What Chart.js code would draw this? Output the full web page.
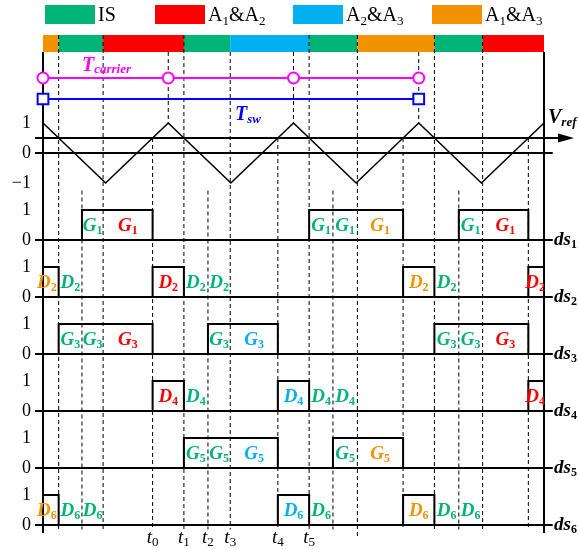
<!DOCTYPE html>
<html>
<head>
<meta charset="utf-8">
<title>Switching states</title>
<script src="https://cdn.jsdelivr.net/npm/chart.js@4.4.1/dist/chart.umd.min.js"></script>
<style>
html, body { margin: 0; padding: 0; background: #fff; }
canvas { display: block; }
</style>
</head>
<body>
<canvas id="chart" width="578" height="549"></canvas>
<script>
// Time axis: one unit = one carrier period
const edges = [0, 0.125, 0.311, 0.48, 0.875, 1.125, 1.317, 1.495, 1.875, 2.125, 2.315, 2.51, 2.875, 3.125, 3.32, 3.51, 3.875, 4];
// Operating mode in each interval between consecutive edges
const modes = ['A13', 'IS', 'IS', 'A12', 'A12', 'IS', 'IS', 'A23', 'A23', 'IS', 'IS', 'A13', 'A13', 'IS', 'IS', 'A12', 'A12'];
const modeNames = { IS: 'IS', A12: 'A1&A2', A23: 'A2&A3', A13: 'A1&A3' };
const legendOrder = ['IS', 'A12', 'A23', 'A13'];

// Triangular carrier and reference level
const carrierT = [0, 0.5, 1, 1.5, 2, 2.5, 3, 3.5, 4];
const carrierV = [1, -1, 1, -1, 1, -1, 1, -1, 1];
const vref = 0.5;
const carrierStarts = [0, 1, 2, 3];
const switchStarts = [0, 3];

// Switch states in each interval
const ds1 = [0, 0, 1, 1, 0, 0, 0, 0, 0, 1, 1, 1, 0, 0, 1, 1, 0];
const ds2 = [1, 0, 0, 0, 1, 0, 0, 0, 0, 0, 0, 0, 1, 0, 0, 0, 1];
const ds3 = [0, 1, 1, 1, 0, 0, 1, 1, 0, 0, 0, 0, 0, 1, 1, 1, 0];
const ds4 = [0, 0, 0, 0, 1, 0, 0, 0, 1, 0, 0, 0, 0, 0, 0, 0, 1];
const ds5 = [0, 0, 0, 0, 0, 1, 1, 1, 0, 0, 1, 1, 0, 0, 0, 0, 0];
const ds6 = [1, 0, 0, 0, 0, 0, 0, 0, 1, 0, 0, 0, 1, 0, 0, 0, 0];

// Intervals in which each device conducts
const cond1 = [2, 3, 9, 10, 11, 14, 15];
const cond2 = [0, 1, 4, 5, 6, 12, 13, 16];
const cond3 = [1, 2, 3, 6, 7, 13, 14, 15];
const cond4 = [4, 5, 8, 9, 10, 16];
const cond5 = [5, 6, 7, 10, 11];
const cond6 = [0, 1, 2, 8, 9, 12, 13, 14];

// Named instants along the bottom
const timeLabels = ['t0', 't1', 't2', 't3', 't4', 't5'];
const timeLabelEdges = [4, 5, 6, 7, 8, 9];

// Tick labels
const carrierTicks = [1, 0, -1];
const stateTicks = [1, 0];

const rows = [
  { name: 'ds1', dev: 'G1', state: ds1, cond: cond1 },
  { name: 'ds2', dev: 'D2', state: ds2, cond: cond2 },
  { name: 'ds3', dev: 'G3', state: ds3, cond: cond3 },
  { name: 'ds4', dev: 'D4', state: ds4, cond: cond4 },
  { name: 'ds5', dev: 'G5', state: ds5, cond: cond5 },
  { name: 'ds6', dev: 'D6', state: ds6, cond: cond6 }
];

// ---- layout and style ----
const SERIF = "'Liberation Serif', 'Times New Roman', serif";
const MAGENTA = '#ff00ff';
const BLUE = '#0000ff';
const modeColor = { IS: '#00b377', A12: '#ff0000', A23: '#00b0f0', A13: '#f39200' };
const ROW0 = -2.9, ROW_STEP = 1.9;
const rowBase = k => ROW0 - ROW_STEP * k;
const BAR_TOP = 3.933, BAR_BOT = 3.367;
const TC_Y = 2.5, TSW_Y = 1.8;
const GUIDE_BOT = -12.55;
const AXIS_BOT = -12.67;
const RULE_L = -0.064, RULE_R = 4.07;
const ARROW_BASE = 4.112, ARROW_TIP = 4.24;

const fmtTick = n => (n < 0 ? '\u2212' + Math.abs(n) : String(n));
const tickEntries = carrierTicks.map(v => ({ value: v, text: fmtTick(v) }));
rows.forEach((r, k) => stateTicks.forEach(v => tickEntries.push({ value: rowBase(k) + v, text: fmtTick(v) })));

const pts = (xs, ys) => xs.map((x, i) => ({ x, y: ys[i] }));
function lineDs(data, extra) {
  return Object.assign({ type: 'line', data, borderColor: '#000', borderWidth: 2, pointRadius: 0,
    pointHoverRadius: 0, fill: false, tension: 0, spanGaps: false }, extra || {});
}

const datasets = [];

// period markers
datasets.push(lineDs(carrierStarts.map(t => ({ x: t, y: TC_Y })), {
  borderColor: MAGENTA, borderWidth: 2, pointRadius: 5.5, pointStyle: 'circle',
  pointBackgroundColor: '#fff', pointBorderColor: MAGENTA, pointBorderWidth: 2
}));
datasets.push(lineDs(switchStarts.map(t => ({ x: t, y: TSW_Y })), {
  borderColor: BLUE, borderWidth: 2, pointRadius: 7.6, pointStyle: 'rect',
  pointBackgroundColor: '#fff', pointBorderColor: BLUE, pointBorderWidth: 2
}));

// switching signals
rows.forEach((r, k) => {
  const off = rowBase(k);
  const data = r.state.map((s, i) => ({ x: edges[i], y: off + s }));
  data.push({ x: edges[edges.length - 1], y: off + r.state[r.state.length - 1] });
  datasets.push(lineDs(data, { stepped: 'before', borderWidth: 2 }));
  datasets.push(lineDs([{ x: RULE_L, y: off }, { x: RULE_R, y: off }], { borderWidth: 2 }));
});

// carrier, reference and zero line
datasets.push(lineDs(pts(carrierT, carrierV), { borderWidth: 1.6 }));
datasets.push(lineDs([{ x: RULE_L, y: vref }, { x: ARROW_BASE, y: vref }], { borderWidth: 2 }));
datasets.push(lineDs([{ x: RULE_L, y: 0 }, { x: RULE_R, y: 0 }], { borderWidth: 2 }));

// left and right frame lines
datasets.push(lineDs([{ x: edges[0], y: BAR_BOT }, { x: edges[0], y: AXIS_BOT }], { borderWidth: 2 }));
datasets.push(lineDs([{ x: edges[edges.length - 1], y: BAR_BOT }, { x: edges[edges.length - 1], y: AXIS_BOT }], { borderWidth: 2 }));

// dashed guide lines
const guidePts = [];
const guide = (t, top, bot) => guidePts.push({ x: t, y: top }, { x: t, y: bot }, { x: t, y: null });
[1, 3, 5, 9, 13, 15].forEach(i => guide(edges[i], BAR_TOP, GUIDE_BOT));
guide(edges[11], BAR_TOP, -12.8);
guide(edges[7], BAR_BOT, GUIDE_BOT);
carrierStarts.slice(1).forEach(t => guide(t, BAR_BOT, 1));
[4, 8, 12, 16].forEach(i => guide(edges[i], vref, GUIDE_BOT));
[2, 6, 10, 14].forEach(i => guide(edges[i], -1.25, GUIDE_BOT));
datasets.push(lineDs(guidePts, { borderWidth: 1, borderDash: [4, 3] }));

// ---- text helpers ----
function richParts(str, main, sub, dy) {
  const out = [];
  for (const ch of str) {
    const isSub = /[0-9]/.test(ch);
    const last = out[out.length - 1];
    if (last && last.isSub === isSub) last.t += ch;
    else out.push({ t: ch, isSub, font: isSub ? sub : main, dy: isSub ? dy : 0 });
  }
  return out;
}
function richWidth(ctx, parts) {
  let w = 0;
  ctx.save();
  parts.forEach(p => { ctx.font = p.font; w += ctx.measureText(p.t).width; });
  ctx.restore();
  return w;
}
function drawRich(ctx, x, y, parts, align, color) {
  ctx.save();
  ctx.fillStyle = color;
  ctx.textBaseline = 'alphabetic';
  ctx.textAlign = 'left';
  let w = 0;
  parts.forEach(p => { ctx.font = p.font; p.w = ctx.measureText(p.t).width; w += p.w; });
  let cx = align === 'center' ? x - w / 2 : align === 'right' ? x - w : x;
  parts.forEach(p => { ctx.font = p.font; ctx.fillText(p.t, cx, y + p.dy); cx += p.w; });
  ctx.restore();
}

const diagramText = {
  id: 'diagramText',
  beforeDatasetsDraw(chart) {
    const { ctx, scales: { x, y } } = chart;
    // mode bar
    const yt = y.getPixelForValue(BAR_TOP), yb = y.getPixelForValue(BAR_BOT);
    let i = 0;
    while (i < modes.length) {
      let j = i;
      while (j + 1 < modes.length && modes[j + 1] === modes[i]) j++;
      const x1 = x.getPixelForValue(edges[i]), x2 = x.getPixelForValue(edges[j + 1]);
      ctx.fillStyle = modeColor[modes[i]];
      ctx.fillRect(x1, yt, x2 - x1, yb - yt);
      i = j + 1;
    }
  },
  afterDatasetsDraw(chart) {
    const { ctx, scales: { x, y } } = chart;

    // legend
    const lx = [45, 155, 293, 432];
    legendOrder.forEach((m, k) => {
      ctx.fillStyle = modeColor[m];
      ctx.fillRect(lx[k], 5, 50, 19);
      drawRich(ctx, lx[k] + 53, 21, richParts(modeNames[m], `20px ${SERIF}`, `13px ${SERIF}`, 4), 'left', '#000');
    });

    // reference arrow head
    const ay = y.getPixelForValue(vref);
    const ab = x.getPixelForValue(ARROW_BASE), at = x.getPixelForValue(ARROW_TIP);
    ctx.fillStyle = '#000';
    ctx.beginPath();
    ctx.moveTo(ab, ay - 4.5); ctx.lineTo(at, ay); ctx.lineTo(ab, ay + 4.5); ctx.closePath();
    ctx.fill();

    // V_ref, T_carrier, T_sw
    drawRich(ctx, x.getPixelForValue(4.032), y.getPixelForValue(1.0),
      [{ t: 'V', font: `bold italic 20px ${SERIF}`, dy: 0 }, { t: 'ref', font: `bold italic 13px ${SERIF}`, dy: 3 }], 'left', '#000');
    drawRich(ctx, x.getPixelForValue(0.311), y.getPixelForValue(TC_Y + 0.233),
      [{ t: 'T', font: `bold italic 20px ${SERIF}`, dy: 0 }, { t: 'carrier', font: `bold italic 13px ${SERIF}`, dy: 2 }], 'left', MAGENTA);
    drawRich(ctx, x.getPixelForValue(1.533), y.getPixelForValue(TSW_Y - 0.7),
      [{ t: 'T', font: `bold italic 20px ${SERIF}`, dy: 0 }, { t: 'sw', font: `bold italic 13px ${SERIF}`, dy: 3 }], 'left', BLUE);

    // device labels and row names
    const last = modes.length - 1;
    rows.forEach((r, k) => {
      const off = rowBase(k);
      r.cond.forEach(i => {
        const parts = richParts(r.dev, `bold italic 19px ${SERIF}`, `bold 12px ${SERIF}`, 3);
        const x1 = x.getPixelForValue(edges[i]), x2 = x.getPixelForValue(edges[i + 1]);
        const ly = y.getPixelForValue(off + 0.31);
        const col = modeColor[modes[i]];
        // labels wider than a boundary interval are pushed inward against its closing edge
        if (richWidth(ctx, parts) > x2 - x1 && i === 0) drawRich(ctx, x2 - 2, ly, parts, 'right', col);
        else if (richWidth(ctx, parts) > x2 - x1 && i === last) drawRich(ctx, x2 + 1, ly, parts, 'right', col);
        else drawRich(ctx, (x1 + x2) / 2, ly, parts, 'center', col);
      });
      drawRich(ctx, x.getPixelForValue(4.08), y.getPixelForValue(off - 0.15),
        richParts(r.name, `bold italic 19px ${SERIF}`, `bold 12px ${SERIF}`, 3), 'left', '#000');
    });

    // instants
    timeLabels.forEach((s, k) => {
      drawRich(ctx, x.getPixelForValue(edges[timeLabelEdges[k]]), y.getPixelForValue(-13.0),
        richParts(s, `italic 19px ${SERIF}`, `13px ${SERIF}`, 3), 'center', '#000');
    });
  }
};

new Chart(document.getElementById('chart'), {
  type: 'line',
  data: { datasets },
  options: {
    responsive: false,
    animation: false,
    events: [],
    layout: { padding: 0, autoPadding: false },
    plugins: { legend: { display: false }, tooltip: { enabled: false } },
    scales: {
      x: { type: 'linear', min: -0.0639, max: 4.2715, display: false },
      y: {
        type: 'linear', position: 'left', min: -13.2, max: 5.1,
        grid: { display: false, drawTicks: false },
        border: { display: false },
        afterFit: s => { s.width = 35; s.paddingTop = 0; s.paddingBottom = 0; s.paddingLeft = 0; s.paddingRight = 0; },
        afterBuildTicks: s => { s.ticks = tickEntries.map(e => ({ value: e.value })); },
        ticks: {
          autoSkip: false, padding: 4, color: '#000',
          font: { family: SERIF, size: 18 },
          callback: (v, i) => tickEntries[i] ? tickEntries[i].text : ''
        }
      }
    }
  },
  plugins: [diagramText]
});
</script>
</body>
</html>
